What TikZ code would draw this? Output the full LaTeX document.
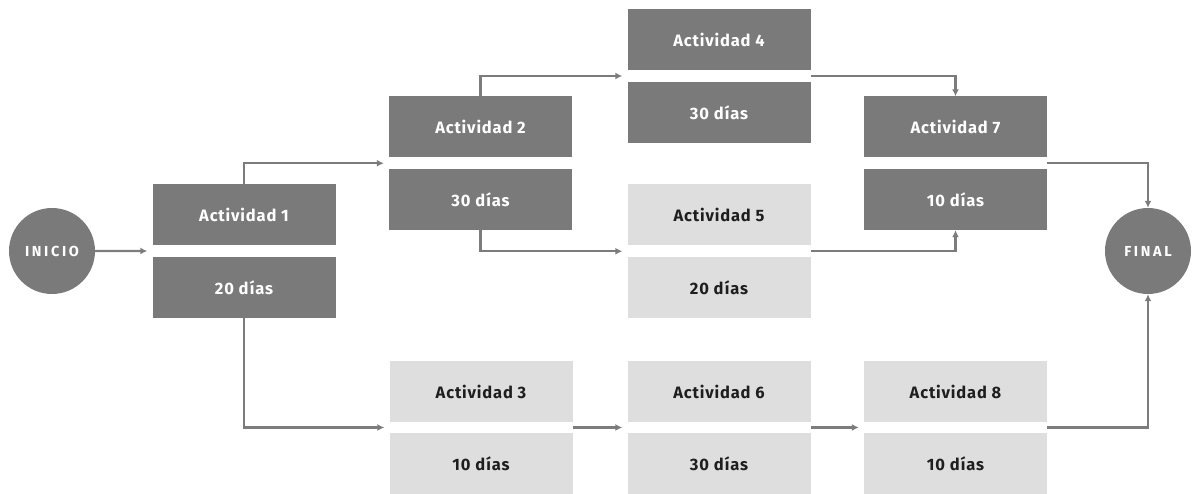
\documentclass[tikz,border=0pt]{standalone}
\usepackage{fontspec}
\setmainfont{Fira Sans}
\newfontfamily\labelfont{Fira Sans}[LetterSpace=5]
\newfontfamily\eventfont{Fira Sans}[LetterSpace=18]
\usetikzlibrary{arrows.meta,calc}

\definecolor{boxdark}{HTML}{7A7A7A}
\definecolor{boxlight}{HTML}{DEDEDE}
\definecolor{textdark}{HTML}{1E1E1E}
\definecolor{linegray}{HTML}{7C7C7C}

\begin{document}
\begin{tikzpicture}[x=1pt,y=-1pt,
  box/.style={minimum width=183pt,minimum height=61pt,inner sep=0pt,
    font=\labelfont\bfseries\fontsize{16.5}{18}\selectfont},
  darkbox/.style={box,fill=boxdark,text=white},
  lightbox/.style={box,fill=boxlight,text=textdark},
  event/.style={circle,fill=boxdark,minimum size=86pt,inner sep=0pt,text=white,
    font=\eventfont\bfseries\fontsize{14.5}{16}\selectfont},
  conn/.style={draw=linegray,line width=2.4pt,-{Latex[length=7pt,width=7pt]}},
  into/.style={shorten >=5pt},
]
\useasboundingbox (0,0) rectangle (1195,494);

% start and end events
\node[event] (ini) at (52,251) {INICIO};
\node[event] (fin) at (1148,251) {FINAL};

% activities: name on top, duration below
\node[darkbox]  (a1t) at (244,214.5) {Actividad 1};
\node[darkbox]  (a1b) at (244,287.5) {20 días};
\node[darkbox]  (a2t) at (480.5,127) {Actividad 2};
\node[darkbox]  (a2b) at (480.5,199.5) {30 días};
\node[darkbox]  (a4t) at (719,39.5) {Actividad 4};
\node[darkbox]  (a4b) at (719,112.5) {30 días};
\node[lightbox] (a5t) at (719,215) {Actividad 5};
\node[lightbox] (a5b) at (719,287.5) {20 días};
\node[darkbox]  (a7t) at (955.5,127) {Actividad 7};
\node[darkbox]  (a7b) at (955.5,199.5) {10 días};
\node[lightbox] (a3t) at (481,391.5) {Actividad 3};
\node[lightbox] (a3b) at (481,463.5) {10 días};
\node[lightbox] (a6t) at (719,391.5) {Actividad 6};
\node[lightbox] (a6b) at (719,463.5) {30 días};
\node[lightbox] (a8t) at (955.5,391.5) {Actividad 8};
\node[lightbox] (a8b) at (955.5,463.5) {10 días};

% entry (west) and exit (east) points in the gap of each activity
\foreach \a in {a1,a2,a3,a4,a5,a6,a7,a8}{
  \coordinate (\a w) at ($(\a t.south west)!.5!(\a b.north west)$);
  \coordinate (\a e) at ($(\a t.south east)!.5!(\a b.north east)$);
}

% dependencies
\draw[conn,into] (ini.east) -- (a1w);
\draw[conn,into] (a1t.north) |- (a2w);
\draw[conn,into] (a2t.north) |- (a4w);
\draw[conn,into] (a2b.south) |- (a5w);
\draw[conn] (a4e) -| (a7t.north);
\draw[conn] (a5e) -| (a7b.south);
\draw[conn] (a7e) -| (fin.north);
\draw[conn,into] (a1b.south) |- (a3w);
\draw[conn,into] (a3e) -- (a6w);
\draw[conn,into] (a6e) -- (a8w);
\draw[conn] (a8e) -| (fin.south);
\end{tikzpicture}
\end{document}
